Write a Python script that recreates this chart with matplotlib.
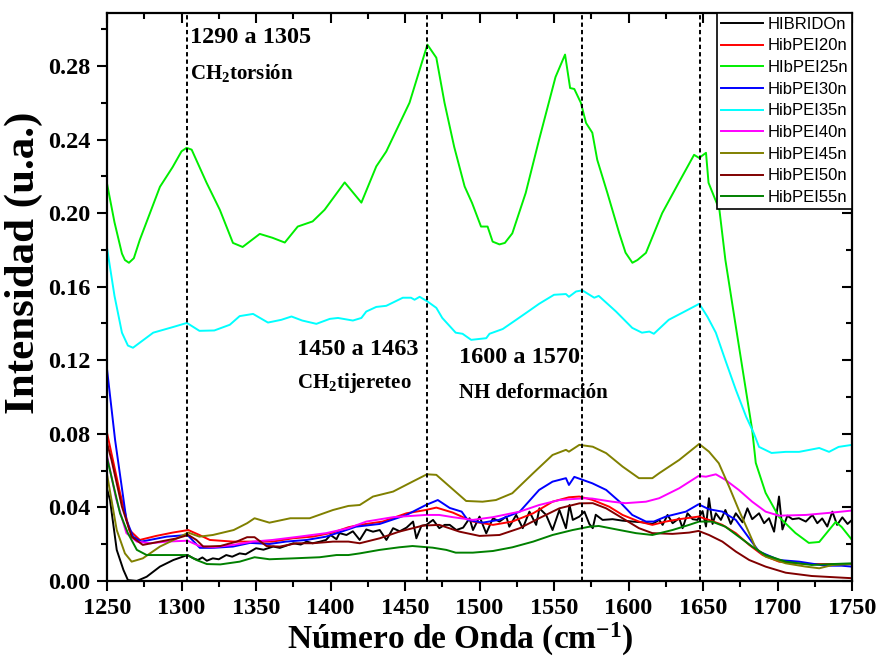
import numpy as np
import matplotlib
matplotlib.use("Agg")
import matplotlib.pyplot as plt
from matplotlib.ticker import MultipleLocator, FormatStrFormatter

plt.rcParams['font.family'] = ['Liberation Serif', 'DejaVu Serif']
plt.rcParams['font.weight'] = 'bold'
plt.rcParams['mathtext.fontset'] = 'custom'
plt.rcParams['mathtext.rm'] = 'Liberation Serif:bold'
plt.rcParams['mathtext.default'] = 'rm'

# ---------------------------------------------------------------
# Espectros (número de onda, intensidad)
# ---------------------------------------------------------------
wn_hibrido = [1250, 1252, 1256.5, 1261, 1264, 1270, 1276.6, 1285.5, 1294.5, 1304, 1308, 1311,
              1314, 1317, 1321, 1325, 1330, 1334, 1339, 1343, 1350, 1355, 1361.5, 1366, 1375,
              1380, 1384, 1388, 1393, 1397, 1400, 1404, 1406, 1410.7, 1415, 1419.6, 1424,
              1428.5, 1433, 1437.5, 1442, 1446.4, 1451, 1455.4, 1457.6, 1461, 1464.3, 1468.8,
              1473, 1476.6, 1480, 1484.4, 1489, 1493.3, 1495.6, 1500, 1504.5, 1509, 1513.4,
              1518, 1520, 1524.6, 1529, 1533.5, 1538, 1540.2, 1544.7, 1549, 1553.6, 1558,
              1560.4, 1562.6, 1567, 1570.4, 1573.7, 1576, 1578, 1582.6, 1589.3, 1596, 1602.7,
              1609.4, 1616, 1620.6, 1622.9, 1626.2, 1629.6, 1634, 1636.3, 1639.6, 1643, 1646.3,
              1649.7, 1652, 1654, 1656.4, 1658.6, 1662, 1665, 1668.6, 1672, 1676.5, 1679.8,
              1683, 1687.6, 1691, 1694.3, 1697.7, 1701, 1703.3, 1706.6, 1710, 1714.4, 1719,
              1723.4, 1726.7, 1730, 1733.4, 1736.8, 1740, 1743.5, 1747, 1750]
i_hibrido = [0.050, 0.044, 0.0169, 0.006, 0.0005, 0.0, 0.0023, 0.0078, 0.0114, 0.0141, 0.0123,
             0.0114, 0.0128, 0.0110, 0.0123, 0.0118, 0.0141, 0.0132, 0.0150, 0.0145, 0.0178,
             0.0170, 0.0187, 0.0180, 0.0205, 0.0198, 0.0214, 0.0205, 0.0214, 0.0223, 0.0250,
             0.0227, 0.0260, 0.0250, 0.0270, 0.0223, 0.0280, 0.0268, 0.0277, 0.0223, 0.0287,
             0.0270, 0.0290, 0.0323, 0.0232, 0.0300, 0.0305, 0.0332, 0.0287, 0.0305, 0.0305,
             0.0277, 0.0290, 0.0341, 0.0277, 0.0350, 0.0259, 0.0341, 0.0323, 0.0350, 0.0295,
             0.0359, 0.0287, 0.0377, 0.0305, 0.0395, 0.0359, 0.0277, 0.0386, 0.0287, 0.0413,
             0.0332, 0.0350, 0.0377, 0.0310, 0.0287, 0.0360, 0.0332, 0.0336, 0.0328, 0.0323,
             0.0319, 0.0310, 0.0332, 0.0305, 0.0359, 0.0314, 0.0341, 0.0287, 0.0368, 0.0336,
             0.0332, 0.0380, 0.0296, 0.0450, 0.0310, 0.0368, 0.0332, 0.0386, 0.0310, 0.0368,
             0.0319, 0.0395, 0.0336, 0.0368, 0.0314, 0.0341, 0.0268, 0.0459, 0.0280, 0.0355,
             0.0336, 0.0341, 0.0323, 0.0359, 0.0314, 0.0340, 0.0296, 0.0377, 0.0305, 0.0346,
             0.0310, 0.0332]

wn_pei20 = [1250, 1252, 1258.7, 1265, 1272, 1283, 1294, 1304.5, 1312, 1319, 1334.5, 1348, 1361,
            1374.7, 1388, 1401.5, 1412, 1419.6, 1435, 1451, 1464, 1471, 1482, 1495.5, 1509,
            1522, 1536, 1549, 1560, 1567, 1575.7, 1587, 1596, 1607, 1616, 1625, 1634, 1647,
            1654, 1663, 1672, 1681, 1690, 1701, 1719, 1737, 1750]
i_pei20 = [0.0805, 0.073, 0.0479, 0.0277, 0.0223, 0.0245, 0.0263, 0.0277, 0.025, 0.0223, 0.0214,
           0.0214, 0.0214, 0.0232, 0.0241, 0.0263, 0.0292, 0.0305, 0.0323, 0.0368, 0.0386,
           0.0399, 0.0372, 0.0323, 0.0305, 0.0323, 0.0368, 0.0431, 0.0455, 0.0459, 0.0441,
           0.0404, 0.0359, 0.0323, 0.0305, 0.0323, 0.0336, 0.035, 0.0332, 0.0305, 0.026,
           0.0196, 0.0141, 0.0105, 0.0092, 0.0092, 0.0092]

wn_pei25 = [1250, 1255, 1260, 1262, 1264.7, 1268, 1272, 1285.5, 1294, 1300, 1303.4, 1306.8,
            1316.8, 1325.7, 1334.5, 1341, 1352.5, 1361, 1369.3, 1378, 1388, 1396, 1409.5,
            1420.7, 1430.7, 1437.4, 1453, 1465, 1471, 1476.5, 1483, 1490, 1495, 1501, 1505.4,
            1508.8, 1513.4, 1517, 1522, 1531, 1540, 1551, 1557.4, 1560.8, 1563.6, 1568, 1571.5,
            1575.7, 1579, 1585.8, 1593.8, 1598, 1602.6, 1606, 1611.7, 1622.6, 1634, 1644,
            1647.4, 1652, 1653.7, 1661, 1665, 1671, 1676.3, 1683, 1685.4, 1692, 1701, 1712,
            1721, 1728, 1739, 1743, 1750]
i_pei25 = [0.216, 0.195, 0.178, 0.1745, 0.173, 0.1755, 0.1855, 0.2143, 0.225, 0.2336, 0.2355,
           0.2345, 0.2165, 0.2018, 0.1838, 0.1816, 0.1887, 0.1866, 0.184, 0.1927, 0.1955,
           0.2018, 0.2167, 0.2057, 0.2254, 0.2335, 0.26, 0.2916, 0.2845, 0.26, 0.236, 0.2145,
           0.2055, 0.1927, 0.1927, 0.1845, 0.183, 0.1838, 0.189, 0.211, 0.240, 0.274, 0.2862,
           0.268, 0.2675, 0.26, 0.249, 0.2437, 0.229, 0.211, 0.189, 0.1785, 0.173, 0.1745,
           0.1784, 0.200, 0.217, 0.2317, 0.230, 0.2328, 0.2165, 0.2018, 0.1746, 0.1436,
           0.1164, 0.0821, 0.0642, 0.0479, 0.0348, 0.0261, 0.0207, 0.0212, 0.0321, 0.0294,
           0.0223]

wn_pei30 = [1250, 1255.4, 1263, 1267.5, 1273, 1290, 1304, 1312.3, 1321, 1334.5, 1346, 1359, 1370,
            1384, 1397, 1410.6, 1417, 1433, 1451, 1464, 1472, 1480, 1488, 1492, 1502, 1513, 1527,
            1540, 1549, 1558, 1560, 1563.6, 1575.7, 1585, 1594, 1602.5, 1611.7, 1617, 1625,
            1638.5, 1647, 1654, 1663, 1672, 1681, 1687.6, 1701, 1714.5, 1732, 1743, 1750]
i_pei30 = [0.115, 0.0767, 0.0332, 0.0241, 0.0214, 0.0241, 0.025, 0.018, 0.018, 0.0187, 0.0207,
           0.0201, 0.0214, 0.0223, 0.0241, 0.0277, 0.0295, 0.031, 0.0359, 0.0413, 0.044,
           0.0397, 0.0377, 0.0332, 0.0317, 0.0332, 0.0377, 0.0495, 0.054, 0.0559, 0.0522,
           0.0566, 0.0531, 0.0495, 0.0431, 0.0359, 0.0323, 0.0323, 0.035, 0.0377, 0.0417,
           0.039, 0.0377, 0.0332, 0.0232, 0.016, 0.0114, 0.0105, 0.0083, 0.0083, 0.0078]

wn_pei35 = [1250, 1255, 1260, 1264, 1267.4, 1281, 1294, 1303.6, 1312, 1322, 1332.4, 1339, 1348,
            1358, 1367, 1373.8, 1381, 1390.5, 1399.5, 1405, 1415, 1420.7, 1424, 1430.7, 1437.4,
            1448.5, 1454, 1456.4, 1459.8, 1465, 1471, 1475, 1484, 1488.6, 1494.4, 1504.5,
            1506.7, 1515.6, 1524.6, 1533.5, 1540, 1550, 1558, 1560, 1564.8, 1569, 1577, 1580,
            1591.6, 1602.5, 1609, 1614, 1617, 1627, 1636, 1647.5, 1653, 1658.6, 1665, 1672,
            1679, 1684, 1687.6, 1696, 1705.5, 1714.5, 1728, 1734.6, 1741, 1750]
i_pei35 = [0.181, 0.155, 0.135, 0.128, 0.1268, 0.135, 0.138, 0.1403, 0.136, 0.1362, 0.1393, 0.144,
           0.1452, 0.1405, 0.142, 0.1438, 0.1416, 0.1398, 0.1425, 0.143, 0.1416, 0.143, 0.1465,
           0.149, 0.1496, 0.154, 0.154, 0.1529, 0.1545, 0.152, 0.1485, 0.143, 0.135, 0.1344,
           0.1311, 0.132, 0.1344, 0.137, 0.142, 0.147, 0.1507, 0.1556, 0.156, 0.1545, 0.1574,
           0.158, 0.154, 0.155, 0.1465, 0.1376, 0.135, 0.1356, 0.1344, 0.142, 0.1458, 0.1507,
           0.1436, 0.135, 0.120, 0.104, 0.0892, 0.0805, 0.0729, 0.0696, 0.0702, 0.0702,
           0.0723, 0.0702, 0.0729, 0.074]

wn_pei40 = [1250, 1256, 1263, 1270, 1279, 1290, 1304, 1312, 1321, 1334.5, 1348, 1361, 1379, 1397,
            1412, 1424, 1442, 1464, 1473, 1482, 1495.5, 1509, 1527, 1540, 1553.6, 1560, 1571.5,
            1575.7, 1589, 1598, 1611.7, 1620.6, 1634, 1647, 1652, 1658.6, 1665, 1674, 1683, 1692,
            1701, 1719, 1737, 1750]
i_pei40 = [0.068, 0.045, 0.026, 0.0214, 0.0205, 0.0214, 0.0219, 0.019, 0.0183, 0.0196, 0.0214,
           0.0223, 0.0241, 0.026, 0.0287, 0.0323, 0.0347, 0.0359, 0.0359, 0.0347, 0.0332,
           0.0347, 0.0377, 0.0413, 0.044, 0.0444, 0.045, 0.0448, 0.0431, 0.0423, 0.0431,
           0.045, 0.0504, 0.0571, 0.0567, 0.058, 0.055, 0.0495, 0.0431, 0.0377, 0.0355,
           0.0359, 0.0372, 0.0383]

wn_pei45 = [1250, 1256.5, 1262, 1266.5, 1274, 1285.5, 1297, 1304.5, 1312, 1321, 1335, 1344, 1349,
            1359, 1373, 1386, 1401.7, 1412, 1419.6, 1428.5, 1442, 1455, 1464.7, 1471, 1480, 1491,
            1502, 1511, 1522, 1536, 1549, 1558, 1560, 1567, 1576, 1585, 1596, 1607, 1616,
            1620.6, 1634, 1647.4, 1654, 1660.6, 1667.5, 1674, 1681, 1685.4, 1692, 1705.5, 1719,
            1728, 1737, 1750]
i_pei45 = [0.058, 0.0277, 0.015, 0.0105, 0.0123, 0.0187, 0.0232, 0.0263, 0.0241, 0.025, 0.0277,
           0.0314, 0.0341, 0.0317, 0.0341, 0.0341, 0.0386, 0.0408, 0.0413, 0.0459, 0.0486,
           0.054, 0.058, 0.0577, 0.0513, 0.0435, 0.0431, 0.044, 0.0477, 0.0586, 0.0685,
           0.0713, 0.0703, 0.074, 0.073, 0.0695, 0.0622, 0.0559, 0.0559, 0.0586, 0.0658,
           0.0745, 0.0703, 0.064, 0.0513, 0.0386, 0.026, 0.0178, 0.0132, 0.0096, 0.0078,
           0.0069, 0.0087, 0.0092]

wn_pei50 = [1250, 1253, 1260, 1266.5, 1274, 1285.5, 1297, 1304.5, 1310, 1314.6, 1326, 1337, 1344,
            1349, 1357, 1366, 1377, 1388, 1401.7, 1412, 1419.6, 1433, 1446, 1462, 1473, 1486.6,
            1500, 1513.4, 1527, 1540, 1553.6, 1567, 1576, 1585, 1596, 1607, 1616, 1629.5,
            1640.7, 1647, 1654, 1663, 1672, 1681, 1692, 1705.5, 1723, 1750]
i_pei50 = [0.075, 0.0658, 0.0404, 0.0241, 0.0196, 0.0214, 0.0232, 0.025, 0.0223, 0.0187, 0.019,
           0.0214, 0.0238, 0.0238, 0.019, 0.0187, 0.0205, 0.0205, 0.0214, 0.0214, 0.0205,
           0.0232, 0.0268, 0.0301, 0.0305, 0.0268, 0.0245, 0.025, 0.0287, 0.0341, 0.0395,
           0.0422, 0.0423, 0.0395, 0.0341, 0.0287, 0.026, 0.0256, 0.0263, 0.0272, 0.025,
           0.0214, 0.016, 0.0114, 0.0078, 0.0045, 0.0027, 0.0015]

wn_pei55 = [1250, 1258.7, 1264, 1270, 1276.6, 1290, 1304, 1310, 1317, 1326, 1339, 1349, 1359, 1375,
            1392.7, 1404, 1412, 1419.6, 1433, 1446, 1455, 1468.6, 1477.7, 1484, 1495.5, 1509,
            1522, 1536, 1549, 1562.5, 1573.7, 1580, 1594, 1605, 1616, 1629.5, 1640.7, 1647.4,
            1656, 1665, 1674, 1683, 1692, 1705.5, 1723, 1737, 1750]
i_pei55 = [0.0669, 0.0368, 0.026, 0.0169, 0.0141, 0.0141, 0.0141, 0.0114, 0.0092, 0.009, 0.0105,
           0.0129, 0.0118, 0.0123, 0.0129, 0.0141, 0.0141, 0.015, 0.0169, 0.0183, 0.019,
           0.0181, 0.0169, 0.0154, 0.0154, 0.0163, 0.0183, 0.0214, 0.025, 0.0277, 0.0295,
           0.0299, 0.0277, 0.026, 0.025, 0.0277, 0.0305, 0.0323, 0.0323, 0.0295, 0.0241,
           0.0187, 0.0141, 0.0105, 0.0087, 0.0092, 0.0096]

series = [
    ("HIBRIDOn", wn_hibrido, i_hibrido, '#000000'),
    ("HibPEI20n", wn_pei20, i_pei20, '#ff0000'),
    ("HIbPEI25n", wn_pei25, i_pei25, '#00ee00'),
    ("HibPEI30n", wn_pei30, i_pei30, '#0000ff'),
    ("HibPEI35n", wn_pei35, i_pei35, '#00ffff'),
    ("HibPEI40n", wn_pei40, i_pei40, '#ff00ff'),
    ("HibPEI45n", wn_pei45, i_pei45, '#808000'),
    ("HibPEI50n", wn_pei50, i_pei50, '#800000'),
    ("HibPEI55n", wn_pei55, i_pei55, '#008000'),
]

# bandas marcadas
band_lines = [1304, 1465, 1569, 1648]

fig = plt.figure(figsize=(8.81, 6.62), dpi=100)
ax = fig.add_axes([0.1215, 0.1224, 0.8456, 0.8585])

for name, wn, inten, col in series:
    ax.plot(wn, inten, color=col, lw=1.4, label=name)

for xv in band_lines:
    ax.axvline(xv, color='black', lw=1.4, ls=(0, (2.2, 1.6)), zorder=5)

ax.set_xlim(1250, 1750)
ax.set_ylim(0, 0.309)
ax.xaxis.set_major_locator(MultipleLocator(50))
ax.xaxis.set_minor_locator(MultipleLocator(25))
ax.yaxis.set_major_locator(MultipleLocator(0.04))
ax.yaxis.set_minor_locator(MultipleLocator(0.02))
ax.yaxis.set_major_formatter(FormatStrFormatter('%.2f'))

for sp in ax.spines.values():
    sp.set_linewidth(1.6)
ax.tick_params(which='both', direction='out', width=1.5, labelsize=17.5, pad=5)
ax.tick_params(which='major', length=7)
ax.tick_params(which='minor', length=4)
ax.tick_params(which='both', top=True, right=True)
# ticks del marco superior y derecho hacia dentro
for t in ax.xaxis.get_major_ticks() + ax.xaxis.get_minor_ticks():
    t.tick2line.set_marker(3)
for t in ax.yaxis.get_major_ticks() + ax.yaxis.get_minor_ticks():
    t.tick2line.set_marker(0)

ax.set_xlabel('Número de Onda (cm$^{-1}$)', fontsize=24, fontweight='bold')
ax.set_ylabel('Intensidad (u.a.)', fontsize=31, fontweight='bold')
ax.xaxis.set_label_coords(0.474, -0.07)
ax.yaxis.set_label_coords(-0.086, 0.559)

ax.text(1305.6, 0.2954, '1290 a 1305', fontsize=17.5, fontweight='bold', va='center')
ax.text(1305.6, 0.2763, 'CH$_2$torsión', fontsize=15, fontweight='bold', va='center')
ax.text(1377.3, 0.1257, '1450 a 1463', fontsize=17.5, fontweight='bold', va='center')
ax.text(1377.3, 0.1077, 'CH$_2$tijereteo', fontsize=15, fontweight='bold', va='center')
ax.text(1486, 0.1213, '1600 a 1570', fontsize=17.5, fontweight='bold', va='center')
ax.text(1486, 0.1023, 'NH deformación', fontsize=15, fontweight='bold', va='center')

leg = ax.legend(loc='upper right', borderaxespad=0, fancybox=False, framealpha=1,
                edgecolor='black', prop={'family': 'Liberation Sans', 'size': 12, 'weight': 'normal'},
                handlelength=2.5, handletextpad=0.25, borderpad=0.25, labelspacing=0.4)
leg.get_frame().set_linewidth(1.2)
leg.set_zorder(10)

fig.savefig('out.png', dpi=100)
